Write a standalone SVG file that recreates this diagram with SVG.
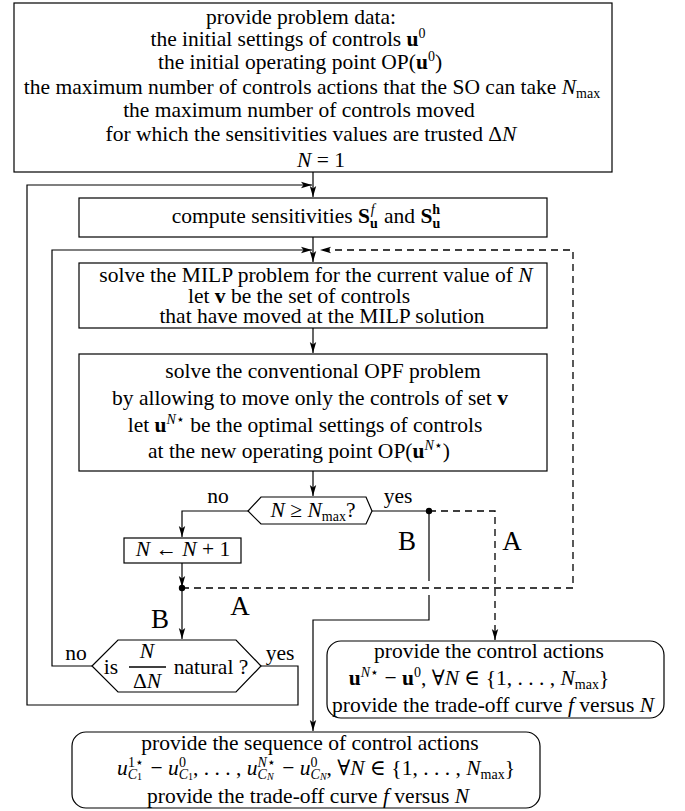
<svg xmlns="http://www.w3.org/2000/svg" width="685" height="811" viewBox="0 0 685 811">
<defs>
<style>
text { font-family: "Liberation Serif", "Times New Roman", "DejaVu Serif", serif; font-size: 21.5px; fill: #000; }
.m { text-anchor: middle; }
.i { font-style: italic; }
.b { font-weight: bold; }
.sm { font-size: 14px; }
.xs { font-size: 10px; }
.big { font-size: 27px; }
.box { fill: #fff; stroke: #000; stroke-width: 1.2; }
.ln { fill: none; stroke: #000; stroke-width: 1.2; }
.dl { stroke-dasharray: 7 5; stroke-width: 1.3; }
</style>
<marker id="ah" markerWidth="12" markerHeight="8" refX="11" refY="4" orient="auto" markerUnits="userSpaceOnUse">
<path d="M0,0.8 L11,4 L0,7.2 L2.5,4 z" fill="#000"/>
</marker>
</defs>
<rect width="685" height="811" fill="#fff"/>

<g id="connectors">
<path class="ln" d="M313,172 V197" marker-end="url(#ah)"/>
<path class="ln" d="M261,666 H298 V705 H27 V185 H312" marker-end="url(#ah)"/>
<path class="ln" d="M313,237 V262" marker-end="url(#ah)"/>
<path class="ln" d="M92,666 H52 V250 H312" marker-end="url(#ah)"/>
<path class="ln dl" d="M182,588 H573 V250 H320" marker-end="url(#ah)"/>
<path class="ln" d="M313,328 V353" marker-end="url(#ah)"/>
<path class="ln" d="M313,471 V496" marker-end="url(#ah)"/>
<path class="ln" d="M248,511 H182 V537" marker-end="url(#ah)"/>
<path class="ln" d="M182,563 V587" marker-end="url(#ah)"/>
<path class="ln" d="M182,588 V639" marker-end="url(#ah)"/>
<path class="ln" d="M372,511 H429 V581"/>
<path class="ln" d="M429,595 V620 H313 V731" marker-end="url(#ah)"/>
<path class="ln dl" d="M429,511 H495 V640" marker-end="url(#ah)"/>
<circle cx="429" cy="511" r="3.2" fill="#000"/>
<circle cx="182" cy="588" r="3.2" fill="#000"/>
<text class="m" x="218" y="503">no</text>
<text class="m" x="398" y="503">yes</text>
<text class="m" x="76" y="660">no</text>
<text class="m" x="280" y="660">yes</text>
<text class="m big" x="160" y="628">B</text>
<text class="m big" x="240" y="615">A</text>
<text class="m big" x="407" y="550">B</text>
<text class="m big" x="512" y="550">A</text>
</g>

<g id="data">
<rect class="box" x="14" y="3" width="598" height="169"/>
<text class="m" x="301" y="24">provide problem data:</text>
<text class="m" x="288" y="46">the initial settings of controls <tspan class="b">u</tspan><tspan class="sm" dy="-8">0</tspan></text>
<text class="m" x="300" y="69">the initial operating point OP(<tspan class="b">u</tspan><tspan class="sm" dy="-8">0</tspan><tspan dy="8">)</tspan></text>
<text class="m" x="312" y="94">the maximum number of controls actions that the SO can take <tspan class="i">N</tspan><tspan class="sm" dy="4">max</tspan></text>
<text class="m" x="299" y="117">the maximum number of controls moved</text>
<text class="m" x="311" y="141">for which the sensitivities values are trusted Δ<tspan class="i">N</tspan></text>
<text class="m" x="321" y="167"><tspan class="i">N</tspan> = 1</text>
</g>

<g id="sensitivities">
<rect class="box" x="79" y="198" width="468" height="39"/>
<text class="m" x="306" y="223">compute sensitivities <tspan class="b">S</tspan><tspan class="sm b" dy="5">u</tspan><tspan class="sm i" dx="-7" dy="-14">f</tspan><tspan dx="4" dy="9"> and </tspan><tspan class="b">S</tspan><tspan class="sm b" dy="5">u</tspan><tspan class="sm b" dx="-8" dy="-14">h</tspan></text>
</g>

<g id="milp">
<rect class="box" x="79" y="263" width="468" height="65"/>
<text class="m" x="316" y="282">solve the MILP problem for the current value of <tspan class="i">N</tspan></text>
<text class="m" x="299" y="303">let <tspan class="b">v</tspan> be the set of controls</text>
<text class="m" x="322" y="323">that have moved at the MILP solution</text>
</g>

<g id="opf">
<rect class="box" x="79" y="354" width="468" height="117"/>
<text class="m" x="323" y="378">solve the conventional OPF problem</text>
<text class="m" x="310" y="405">by allowing to move only the controls of set <tspan class="b">v</tspan></text>
<text class="m" x="305" y="432">let <tspan class="b">u</tspan><tspan class="sm i" dy="-8">N</tspan><tspan class="sm">⋆</tspan><tspan dy="8"> be the optimal settings of controls</tspan></text>
<text class="m" x="299" y="458">at the new operating point OP(<tspan class="b">u</tspan><tspan class="sm i" dy="-8">N</tspan><tspan class="sm">⋆</tspan><tspan dy="8">)</tspan></text>
</g>

<g id="check-nmax">
<polygon class="box" points="248,511 261,497 366,497 372,511 366,524 261,524"/>
<text class="m" x="313" y="517"><tspan class="i">N</tspan> ≥ <tspan class="i">N</tspan><tspan class="sm" dy="4">max</tspan><tspan dy="-4">?</tspan></text>
</g>

<g id="increment">
<rect class="box" x="124" y="538" width="117" height="25"/>
<text class="m" x="183" y="556"><tspan class="i">N</tspan> ← <tspan class="i">N</tspan> + 1</text>
</g>

<g id="check-natural">
<polygon class="box" points="92,666 118,640 236,640 261,666 236,692 118,692"/>
<text class="m" x="111" y="674">is</text>
<text class="m i" x="147" y="658">N</text>
<line x1="129" y1="667" x2="166" y2="667" stroke="#000" stroke-width="1.5"/>
<text class="m" x="147" y="688">Δ<tspan class="i">N</tspan></text>
<text class="m" x="211" y="674">natural ?</text>
</g>

<g id="out-a">
<rect class="box" x="327" y="641" width="337" height="77" rx="14"/>
<text class="m" x="489" y="658">provide the control actions</text>
<text class="m" x="479" y="685"><tspan class="b">u</tspan><tspan class="sm i" dy="-8">N</tspan><tspan class="sm">⋆</tspan><tspan dy="8"> − </tspan><tspan class="b">u</tspan><tspan class="sm" dy="-8">0</tspan><tspan dy="8">, ∀</tspan><tspan class="i">N</tspan> ∈ {1, . . . , <tspan class="i">N</tspan><tspan class="sm" dy="4">max</tspan><tspan dy="-4">}</tspan></text>
<text class="m" x="493" y="712">provide the trade-off curve <tspan class="i">f</tspan> versus <tspan class="i">N</tspan></text>
</g>

<g id="out-b">
<rect class="box" x="72" y="732" width="468" height="76" rx="14"/>
<text class="m" x="310" y="750">provide the sequence of control actions</text>
<text class="m" x="316" y="775"><tspan class="i">u</tspan><tspan class="sm i" dy="4">C</tspan><tspan class="xs" dy="1">1</tspan><tspan class="sm" dx="-14" dy="-13">1⋆</tspan><tspan dx="1" dy="8"> − </tspan><tspan class="i">u</tspan><tspan class="sm i" dy="4">C</tspan><tspan class="xs" dy="1">1</tspan><tspan class="sm" dx="-14" dy="-13">0</tspan><tspan dx="7" dy="8">, . . . , </tspan><tspan class="i">u</tspan><tspan class="sm i" dy="4">C</tspan><tspan class="xs i" dy="1">N</tspan><tspan class="sm" dx="-16" dy="-13"><tspan class="i">N</tspan>⋆</tspan><tspan dx="1" dy="8"> − </tspan><tspan class="i">u</tspan><tspan class="sm i" dy="4">C</tspan><tspan class="xs i" dy="1">N</tspan><tspan class="sm" dx="-16" dy="-13">0</tspan><tspan dx="9" dy="8">, ∀</tspan><tspan class="i">N</tspan> ∈ {1, . . . , <tspan class="i">N</tspan><tspan class="sm" dy="4">max</tspan><tspan dy="-4">}</tspan></text>
<text class="m" x="308" y="803">provide the trade-off curve <tspan class="i">f</tspan> versus <tspan class="i">N</tspan></text>
</g>
</svg>
